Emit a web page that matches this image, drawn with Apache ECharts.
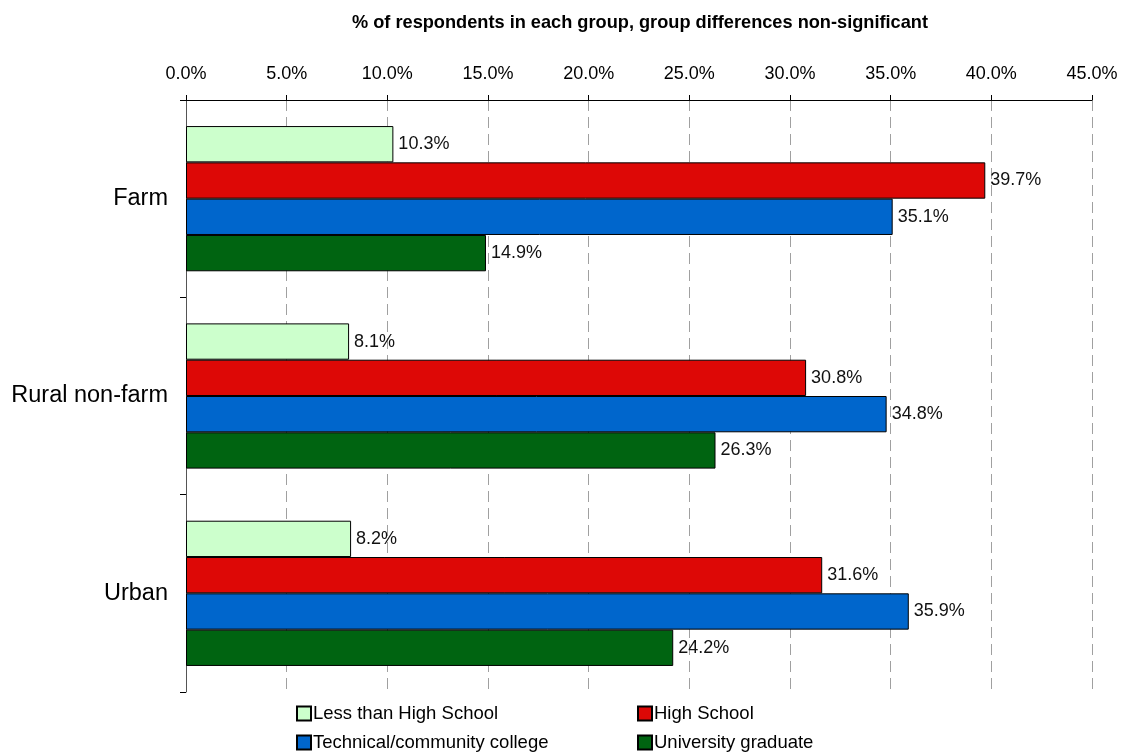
<!DOCTYPE html>
<html>
<head>
<meta charset="utf-8">
<script src="https://cdn.jsdelivr.net/npm/echarts@6/dist/echarts.min.js"></script>
<style>
  html, body { margin: 0; padding: 0; background: #fff; }
  #chart { width: 1124px; height: 755px; }
</style>
</head>
<body>
<div id="chart"></div>
<script>
const categories = ['Farm', 'Rural non-farm', 'Urban'];
const seriesNames = ['Less than High School', 'High School', 'Technical/community college', 'University graduate'];
const lessThanHighSchool = [10.3, 8.1, 8.2];
const highSchool = [39.7, 30.8, 31.6];
const technicalCollege = [35.1, 34.8, 35.9];
const universityGraduate = [14.9, 26.3, 24.2];
const seriesColors = ['#ccffcc', '#dd0806', '#0066cc', '#006411'];

const font = '"Liberation Sans", Arial, sans-serif';
const chart = echarts.init(document.getElementById('chart'));

const values = [lessThanHighSchool, highSchool, technicalCollege, universityGraduate];

// legend laid out as 2x2, one component per item
const legendSpots = [[296, 704], [637, 704], [296, 733], [637, 733]];

const option = {
  animation: false,
  textStyle: { fontFamily: font },
  title: {
    text: '% of respondents in each group, group differences non-significant',
    left: 347,
    top: 9,
    textStyle: { fontSize: 18.2, fontWeight: 'bold', color: '#000', fontFamily: font }
  },
  legend: seriesNames.map((name, i) => ({
    data: [name],
    left: legendSpots[i][0],
    top: legendSpots[i][1],
    padding: 0,
    itemWidth: 14,
    itemHeight: 14,
    icon: 'rect',
    textStyle: { fontSize: 18.5, color: '#000', padding: [0, 0, 0, -3] }
  })),
  grid: { left: 186, right: 32, top: 100, bottom: 63 },
  xAxis: {
    type: 'value',
    position: 'top',
    min: 0,
    max: 45,
    interval: 5,
    axisLine: { show: true, lineStyle: { color: '#000', width: 1 } },
    axisTick: { show: true, length: 5, lineStyle: { color: '#000' } },
    axisLabel: {
      margin: 17,
      fontSize: 18,
      color: '#000',
      formatter: v => v.toFixed(1) + '%'
    },
    splitLine: {
      show: true,
      lineStyle: { color: '#a0a0a0', type: [11, 6], width: 1 }
    }
  },
  yAxis: {
    type: 'category',
    data: categories,
    inverse: true,
    axisLine: { show: true, lineStyle: { color: '#555', width: 1 } },
    axisTick: { show: true, length: 6, lineStyle: { color: '#000' } },
    axisLabel: { fontSize: 23.5, color: '#000', margin: 18 }
  },
  series: seriesNames.map((name, i) => ({
    name: name,
    type: 'bar',
    data: values[i],
    barGap: '0%',
    barCategoryGap: '26.4%',
    itemStyle: { color: seriesColors[i], borderColor: '#000', borderWidth: 1 },
    label: {
      show: true,
      position: 'right',
      distance: 5,
      fontSize: 18,
      color: '#111',
      formatter: p => p.value.toFixed(1) + '%'
    }
  }))
};

chart.setOption(option);
</script>
</body>
</html>
